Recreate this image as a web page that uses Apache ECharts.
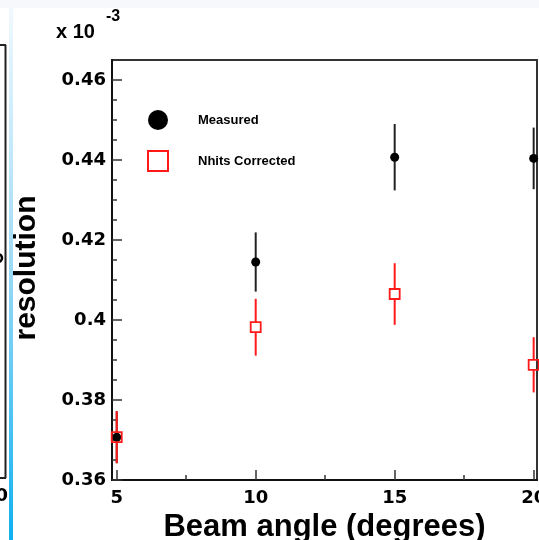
<!DOCTYPE html>
<html>
<head>
<meta charset="utf-8">
<script src="https://cdn.jsdelivr.net/npm/echarts@6/dist/echarts.min.js"></script>
<style>
  html, body { margin: 0; padding: 0; background: #fff; }
  #chart { width: 539px; height: 540px; }
</style>
</head>
<body>
<div id="chart"></div>
<script>
// Beam angle scan: resolution (in units of 1e-3) before and after the Nhits correction
const angles = [5, 10, 15, 20];
const measured = [0.3707, 0.4145, 0.4407, 0.4404];
const measuredErr = [0.0065, 0.0074, 0.0083, 0.0077];
const corrected = [0.3707, 0.3982, 0.4065, 0.3888];
const correctedErr = [0.0065, 0.0071, 0.0077, 0.0069];

const xMajorTicks = [5, 10, 15, 20];
const xMinorTicks = [7.5, 12.5, 17.5];
const yMajorTicks = [0.36, 0.38, 0.40, 0.42, 0.44, 0.46];
const yMinorTicks = [0.365, 0.37, 0.375, 0.385, 0.39, 0.395, 0.405, 0.41, 0.415,
                     0.425, 0.43, 0.435, 0.445, 0.45, 0.455];

const seriesNames = ['Measured', 'Nhits Corrected'];

const tickFont = { fontFamily: 'DejaVu Sans', fontWeight: 'bold', fontSize: 18, color: '#000' };

function pairs(xs, ys, es) {
  return xs.map((x, i) => [x, ys[i], es[i]]);
}

// vertical error bar, split around the marker
function errorBar(color, gap) {
  return function (params, api) {
    const x = api.value(0), v = api.value(1), e = api.value(2);
    const top = api.coord([x, v + e]);
    const mid = api.coord([x, v]);
    const bot = api.coord([x, v - e]);
    const style = { stroke: color, lineWidth: 2 };
    return {
      type: 'group',
      children: [
        { type: 'line', shape: { x1: top[0], y1: top[1], x2: mid[0], y2: mid[1] - gap }, style },
        { type: 'line', shape: { x1: mid[0], y1: mid[1] + gap, x2: bot[0], y2: bot[1] }, style }
      ]
    };
  };
}

const chart = echarts.init(document.getElementById('chart'));

const xBase = { type: 'value', min: 4.83, max: 20.12, splitLine: { show: false } };
const yBase = { type: 'value', min: 0.36, max: 0.465, splitLine: { show: false } };

chart.setOption({
  animation: false,
  backgroundColor: '#fff',
  grid: {
    left: 112, right: 2, top: 60, bottom: 60,
    containLabel: false, outerBoundsMode: 'none',
    show: true, borderColor: '#333', borderWidth: 2, backgroundColor: 'transparent'
  },
  xAxis: [
    Object.assign({}, xBase, {
      position: 'bottom',
      axisLine: { show: true, onZero: false, lineStyle: { color: '#111', width: 2 } },
      axisTick: { show: true, inside: true, length: 10, customValues: xMajorTicks, lineStyle: { color: '#333', width: 1.5 } },
      axisLabel: Object.assign({ show: true, margin: 9, customValues: xMajorTicks }, tickFont),
      name: 'Beam angle (degrees)',
      nameLocation: 'middle',
      nameGap: 28,
      nameTextStyle: { fontFamily: 'Liberation Sans', fontWeight: 'bold', fontSize: 31, color: '#000' }
    }),
    Object.assign({}, xBase, {
      position: 'bottom',
      axisLine: { show: false, onZero: false },
      axisTick: { show: true, inside: true, length: 5, customValues: xMinorTicks, lineStyle: { color: '#333', width: 1.5 } },
      axisLabel: { show: false }
    })
  ],
  yAxis: [
    Object.assign({}, yBase, {
      position: 'left',
      axisLine: { show: true, onZero: false, lineStyle: { color: '#111', width: 2 } },
      axisTick: { show: true, inside: true, length: 10, customValues: yMajorTicks, lineStyle: { color: '#333', width: 1.5 } },
      axisLabel: Object.assign({ show: true, margin: 6, customValues: yMajorTicks,
        formatter: v => String(parseFloat(v.toFixed(3))) }, tickFont)
    }),
    Object.assign({}, yBase, {
      position: 'left',
      axisLine: { show: false, onZero: false },
      axisTick: { show: true, inside: true, length: 5, customValues: yMinorTicks, lineStyle: { color: '#333', width: 1.5 } },
      axisLabel: { show: false }
    })
  ],
  legend: {
    orient: 'vertical',
    left: 147, top: 110, padding: 0,
    itemWidth: 20, itemHeight: 20, itemGap: 20,
    selectedMode: false,
    data: [
      { name: seriesNames[0], icon: 'circle' },
      { name: seriesNames[1], icon: 'rect' }
    ],
    textStyle: { fontFamily: 'Liberation Sans', fontWeight: 'bold', fontSize: 13, color: '#000', padding: [0, 0, 0, 25] }
  },
  graphic: [
    // faint strip across the top
    { type: 'rect', left: 0, top: 0, shape: { width: 539, height: 8 }, style: { fill: '#f6f8fb' }, silent: true },
    // edge of the neighbouring panel
    { type: 'line', shape: { x1: 5.5, y1: 45, x2: 5.5, y2: 478 }, style: { stroke: '#222', lineWidth: 2 }, silent: true },
    { type: 'line', shape: { x1: 0, y1: 45, x2: 6, y2: 45 }, style: { stroke: '#222', lineWidth: 2 }, silent: true },
    { type: 'line', shape: { x1: 0, y1: 478, x2: 6, y2: 478 }, style: { stroke: '#222', lineWidth: 2 }, silent: true },
    { type: 'text', x: 8, y: 496, style: { text: '20', fill: '#000', font: 'bold 18px "DejaVu Sans"', align: 'right', verticalAlign: 'middle' }, silent: true },
    { type: 'circle', shape: { cx: -2, cy: 258, r: 4 }, style: { fill: 'none', stroke: '#000', lineWidth: 2.5 }, silent: true },
    // blue divider
    {
      type: 'rect', left: 9, top: 8, shape: { width: 4, height: 532 }, silent: true,
      style: {
        fill: new echarts.graphic.LinearGradient(0, 0, 0, 1, [
          { offset: 0, color: '#f0f9fe' },
          { offset: 0.45, color: '#a4ddf7' },
          { offset: 1, color: '#0fb0f0' }
        ])
      }
    },
    // y-axis title and exponent
    { type: 'text', x: 27, y: 268, rotation: Math.PI / 2,
      style: { text: 'resolution', fill: '#000', font: 'bold 30px "Liberation Sans"', align: 'center', verticalAlign: 'middle' }, silent: true },
    { type: 'text', x: 56, y: 32, style: { text: 'x 10', fill: '#000', font: 'bold 20px "Liberation Sans"', align: 'left', verticalAlign: 'middle' }, silent: true },
    { type: 'text', x: 106, y: 17, style: { text: '-3', fill: '#000', font: 'bold 16px "Liberation Sans"', align: 'left', verticalAlign: 'middle' }, silent: true }
  ],
  series: [
    {
      name: seriesNames[0] + ' err', type: 'custom', xAxisIndex: 0, yAxisIndex: 0,
      renderItem: errorBar('#222', 0),
      data: pairs(angles, measured, measuredErr), z: 2
    },
    {
      name: seriesNames[0], type: 'scatter', xAxisIndex: 0, yAxisIndex: 0,
      symbol: 'circle', symbolSize: 9,
      itemStyle: { color: '#000', opacity: 1 },
      data: angles.map((x, i) => [x, measured[i]]), z: 3
    },
    {
      name: seriesNames[1] + ' err', type: 'custom', xAxisIndex: 0, yAxisIndex: 0,
      renderItem: errorBar('#ff1a1a', 5),
      data: pairs(angles, corrected, correctedErr), z: 4
    },
    {
      name: seriesNames[1], type: 'scatter', xAxisIndex: 0, yAxisIndex: 0,
      symbol: 'rect', symbolSize: 10,
      itemStyle: { color: 'rgba(255,255,255,0)', borderColor: '#ff1a1a', borderWidth: 1.8, opacity: 1 },
      data: angles.map((x, i) => [x, corrected[i]]), z: 5
    }
  ]
});
</script>
</body>
</html>
